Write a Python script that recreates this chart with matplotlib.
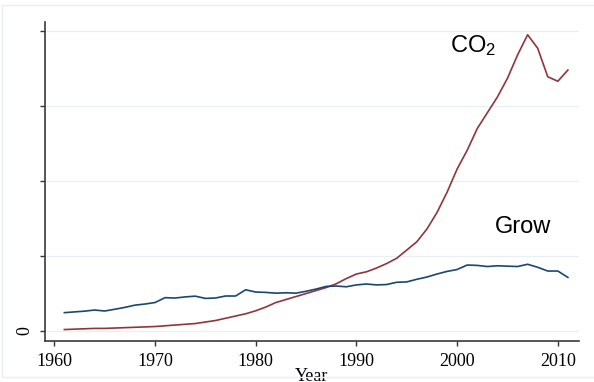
import numpy as np
import matplotlib
matplotlib.use("Agg")
import matplotlib.pyplot as plt
from matplotlib.patches import Rectangle

# series read per year, 1961-2011 (arbitrary units, tick step = 1)
years = list(range(1961, 2012))

co2 = [0.02, 0.025, 0.03, 0.035, 0.035, 0.04, 0.045, 0.05, 0.055, 0.06,
       0.07, 0.08, 0.09, 0.10, 0.12, 0.14, 0.17, 0.20, 0.23, 0.27,
       0.32, 0.38, 0.42, 0.46, 0.50, 0.54, 0.58, 0.63, 0.70, 0.76,
       0.79, 0.84, 0.90, 0.97, 1.08, 1.19, 1.36, 1.58, 1.85, 2.16,
       2.41, 2.70, 2.91, 3.12, 3.37, 3.68, 3.95, 3.77, 3.39, 3.33,
       3.48]

grow = [0.245, 0.255, 0.265, 0.28, 0.267, 0.29, 0.315, 0.345, 0.36, 0.38,
        0.445, 0.44, 0.455, 0.465, 0.435, 0.44, 0.467, 0.467, 0.55, 0.52,
        0.515, 0.505, 0.51, 0.505, 0.53, 0.56, 0.595, 0.60, 0.59, 0.615,
        0.627, 0.615, 0.62, 0.65, 0.655, 0.69, 0.72, 0.76, 0.795, 0.82,
        0.88, 0.875, 0.86, 0.87, 0.865, 0.86, 0.89, 0.85, 0.80, 0.80,
        0.715]

xticks = [1960, 1970, 1980, 1990, 2000, 2010]
yticks = [0, 1, 2, 3, 4]
ytick_labels = ['0', '', '', '', '']

plt.rcParams['mathtext.fontset'] = 'custom'
plt.rcParams['mathtext.rm'] = 'Liberation Sans'
plt.rcParams['mathtext.it'] = 'Liberation Sans'

fig = plt.figure(figsize=(5.94, 3.82), dpi=100)
ax = fig.add_axes([0.0753, 0.1073, 0.8994, 0.8351])

# light outer frame
fig.patches.append(Rectangle((2/594, 5/382), 1.0, 372/382, transform=fig.transFigure,
                             fill=False, ec='#e8eef2', lw=1.0))

for y in yticks:
    ax.axhline(y, color='#e9eff2', lw=0.9, zorder=0)

ax.plot(years, co2, color='#90353b', lw=1.2)
ax.plot(years, grow, color='#1a476f', lw=1.2)

ax.text(1999.3, 3.72, r'CO$_2$', fontsize=17, family='Liberation Sans',
        ha='left', va='baseline')
ax.text(2003.7, 1.31, 'Grow', fontsize=17, family='Liberation Sans',
        ha='left', va='baseline')

ax.set_xlim(1959.05, 2012.1)
ax.set_ylim(-0.133, 4.12)
ax.set_xticks(xticks)
ax.set_xticklabels([str(t) for t in xticks], family='Liberation Serif', fontsize=13)
ax.set_yticks(yticks)
ax.set_yticklabels(ytick_labels, family='Liberation Serif', fontsize=13,
                   rotation=90, va='center')
ax.tick_params(direction='out', length=3.8, width=1.0, color='#333333', pad=4.5)
ax.set_xlabel('Year', family='Liberation Serif', fontsize=13, labelpad=-1)

for side in ['top', 'right']:
    ax.spines[side].set_visible(False)
for side in ['left', 'bottom']:
    ax.spines[side].set_color('#3a3a3a')
    ax.spines[side].set_linewidth(1.2)

fig.savefig('out.png', dpi=100)
